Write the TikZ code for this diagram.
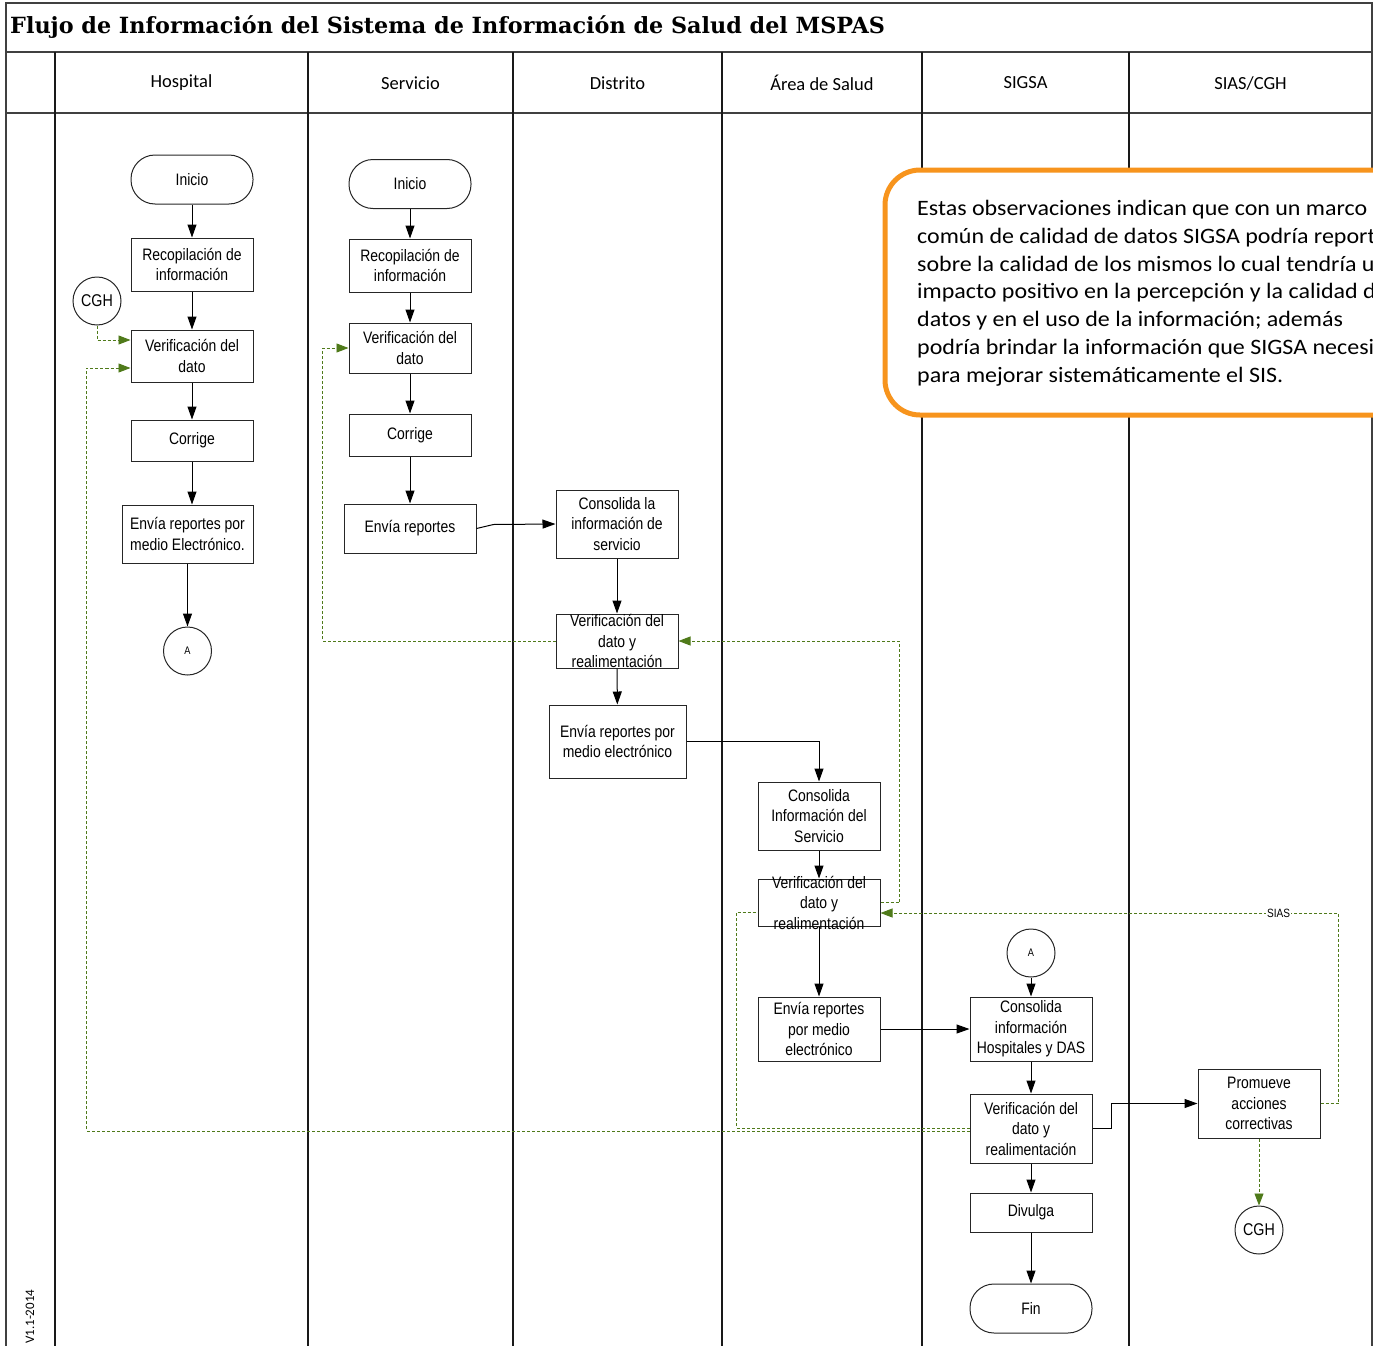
\documentclass[tikz,border=0pt]{standalone}
\usepackage{fontspec}
\setmainfont{Carlito}
\newfontfamily\nar[FakeStretch=0.84]{Liberation Sans}
\newfontfamily\ttlfont{DejaVu Serif}
\newfontfamily\callfont[FakeStretch=1.09]{Carlito}
\usetikzlibrary{arrows.meta}
\definecolor{gline}{HTML}{4F7A1A}
\definecolor{orng}{HTML}{F7941D}
\definecolor{frm}{HTML}{404040}
\begin{document}
\begin{tikzpicture}[x=1pt,y=-1pt,
 box/.style={draw=black!85, line width=1pt, inner sep=0pt, align=center, font=\nar\fontsize{16.6}{20.5}\selectfont},
 term/.style={box, rounded corners=24pt},
 circ/.style={draw=black!85, line width=1pt, circle, minimum size=48pt, inner sep=0pt, font=\nar\fontsize{17}{18}\selectfont},
 flow/.style={line width=1pt, -{Triangle[length=13pt,width=9pt]}},
 fb/.style={draw=gline, line width=0.9pt, dash pattern=on 3pt off 2pt},
 fba/.style={fb, -{Triangle[length=12pt,width=9pt,fill=gline]}},
 lane/.style={line width=1.4pt, draw=black!90},
 frame/.style={line width=2pt, draw=frm},
 hdr/.style={font=\fontsize{18.5}{20}\selectfont, inner sep=0pt},
 lbl/.style={inner sep=0pt, align=center, font=\nar\fontsize{16.6}{20.5}\selectfont},
]
\useasboundingbox (0,0) rectangle (1373,1346);
\clip (0,0) rectangle (1373,1346);

% frame and lanes
\draw[frame] (6,1346) -- (6,3) -- (1372,3) -- (1372,1346);
\draw[frame] (6,52) -- (1372,52);
\draw[frame] (6,113) -- (1372,113);
\foreach \xx in {55,308,513,722,922,1129} \draw[lane] (\xx,52) -- (\xx,1346);

% title and headers
\node[anchor=west, font=\ttlfont\bfseries\fontsize{22.3}{26}\selectfont, inner sep=0pt] (title) at (10,27) {Flujo de Información del Sistema de Información de Salud del MSPAS};
\node[hdr] (lh) at (181.5,83) {Hospital};
\node[hdr] (ls) at (410.5,83) {Servicio};
\node[hdr] (ld) at (617.5,83) {Distrito};
\node[hdr] (la) at (822,83) {Área de Salud};
\node[hdr] (lg) at (1025.5,83) {SIGSA};
\node[hdr] (lc) at (1250.5,83) {SIAS/CGH};
\node[rotate=90, anchor=west, inner sep=0pt, font=\fontsize{13}{15}\selectfont] (ver) at (30,1344) {V1.1-2014};

% Hospital
\node[term, minimum width=122pt, minimum height=49pt] (h1) at (192,179.5) {Inicio};
\node[box, minimum width=122pt, minimum height=53pt] (h2) at (192,264.5) {Recopilación de\\información};
\node[circ] (c1) at (97,301) {CGH};
\node[box, minimum width=122pt, minimum height=52pt] (h3) at (192,356) {Verificación del\\dato};
\node[box, minimum width=122pt, minimum height=41pt] (h4) at (192,440.5) {Corrige};
\node[box, minimum width=131pt, minimum height=58pt] (h5) at (187.5,534) {Envía reportes por\\medio Electrónico.};
\node[circ, font=\nar\fontsize{11}{12}\selectfont] (hA) at (187.5,651) {A};

% Servicio
\node[term, minimum width=122pt, minimum height=49pt] (v1) at (410,184) {Inicio};
\node[box, minimum width=122pt, minimum height=53pt] (v2) at (410,265.5) {Recopilación de\\información};
\node[box, minimum width=122pt, minimum height=50pt] (v3) at (410,348) {Verificación del\\dato};
\node[box, minimum width=122pt, minimum height=42pt] (v4) at (410,435) {Corrige};
\node[box, minimum width=132pt, minimum height=49pt] (v5) at (410,528.5) {Envía reportes};

% Distrito
\node[box, minimum width=122pt, minimum height=68pt] (d1) at (617,524) {Consolida la\\información de\\servicio};
\node[box, minimum width=122pt, minimum height=54pt, label={[lbl]center:Verificación del\\dato y\\realimentación}] (d2) at (617,641) {};
\node[box, minimum width=137pt, minimum height=73pt] (d3) at (617.5,741.5) {Envía reportes por\\medio electrónico};

% Area de Salud
\node[box, minimum width=122pt, minimum height=68pt] (a1) at (819,816) {Consolida\\Información del\\Servicio};
\node[box, minimum width=122pt, minimum height=47pt, label={[lbl]center:Verificación del\\dato y\\realimentación}] (a2) at (819,902.5) {};
\node[box, minimum width=122pt, minimum height=64pt] (a3) at (819,1029) {Envía reportes\\por medio\\electrónico};

% SIGSA
\node[circ, font=\nar\fontsize{11}{12}\selectfont] (sA) at (1031,953) {A};
\node[box, minimum width=122pt, minimum height=64pt] (s1) at (1031,1029) {Consolida\\información\\Hospitales y DAS};
\node[box, minimum width=122pt, minimum height=69pt] (s2) at (1031,1128.5) {Verificación del\\dato y\\realimentación};
\node[box, minimum width=122pt, minimum height=39pt] (s3) at (1031,1212.5) {Divulga};
\node[term, minimum width=122pt, minimum height=49pt] (s4) at (1031,1308.5) {Fin};

% SIAS/CGH
\node[box, minimum width=122pt, minimum height=69pt] (p1) at (1259,1103.5) {Promueve\\acciones\\correctivas};
\node[circ] (c2) at (1259,1230) {CGH};

% main flow
\draw[flow] (h1) -- (h2);
\draw[flow] (h2) -- (h3);
\draw[flow] (h3) -- (h4);
\draw[flow] (h4.south) -- (h4.south |- h5.north);
\draw[flow] (h5) -- (hA);
\draw[flow] (v1) -- (v2);
\draw[flow] (v2) -- (v3);
\draw[flow] (v3) -- (v4);
\draw[flow] (v4) -- (v5);
\draw[flow] (v5.east) -- ++(17pt,4pt) -- (d1.west);
\draw[flow] (d1) -- (d2);
\draw[flow] (d2) -- (d3);
\draw[flow] (d3.east) -| (a1.north);
\draw[flow] (a1) -- (a2);
\draw[flow] (a2) -- (a3);
\draw[flow] (a3) -- (s1);
\draw[flow] (sA) -- (s1);
\draw[flow] (s1) -- (s2);
\draw[flow] (s2) -- (s3);
\draw[flow] (s3) -- (s4);
\draw[flow] (s2.east) -- ++(19,0) |- (p1.west);

% feedback
\draw[fba] (c1.south) |- ([yshift=16pt]h3.west);
\draw[fba] ([yshift=-2.5pt]s2.west) -| ([xshift=-44pt,yshift=-12pt]h3.west) -- ([yshift=-12pt]h3.west);
\draw[fb] ([yshift=0.5pt]s2.west) -| ([xshift=-21pt,yshift=-9.5pt]a2.west) -- ([yshift=-9.5pt]a2.west);
\draw[fba] (a2.east) -| ([xshift=221pt]d2.east) -- (d2.east);
\draw[fba] (d2.west) -| ([xshift=-26pt]v3.west) -- (v3.west);
\draw[fba] (p1.east) -| ([xshift=458pt,yshift=-10.5pt]a2.east) -- node[pos=0.131, fill=white, inner sep=1pt, font=\nar\fontsize{12}{12}\selectfont]{SIAS} ([yshift=-10.5pt]a2.east);
\draw[fba] (p1.south) -- (c2.north);

% callout
\draw[orng, line width=5pt, fill=white, rounded corners=35pt] (885,170) rectangle (1450,415);
\node[anchor=north west, align=left, inner sep=0pt, font=\callfont\fontsize{22}{27.8}\selectfont] (note) at (917,200) {Estas observaciones indican que con un marco\\común de calidad de datos SIGSA podría reportar\\sobre la calidad de los mismos lo cual tendría un\\impacto positivo en la percepción y la calidad de\\datos y en el uso de la información; además\\podría brindar la información que SIGSA necesita\\para mejorar sistemáticamente el SIS.};
\end{tikzpicture}
\end{document}
